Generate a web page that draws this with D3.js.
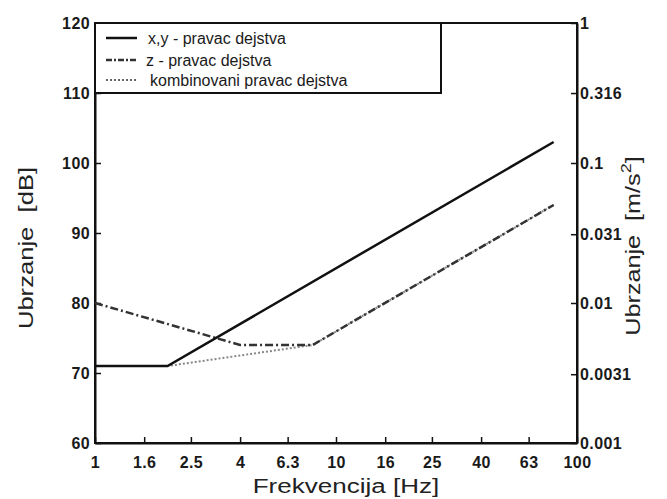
<!DOCTYPE html>
<html>
<head>
<meta charset="utf-8">
<script src="https://cdn.jsdelivr.net/npm/d3@7"></script>
<style>
  body { margin: 0; background: #fff; }
  svg { font-family: "Liberation Sans", Arial, sans-serif; }
</style>
</head>
<body>
<div id="chart"></div>
<script>
// frequency ticks (Hz) and levels (dB)
const freqTicks = [1, 1.6, 2.5, 4, 6.3, 10, 16, 25, 40, 63, 100];
const dbTicks = [60, 70, 80, 90, 100, 110, 120];
const accTicks = [0.001, 0.0031, 0.01, 0.031, 0.1, 0.316, 1];

// x,y direction
const xyFreq = [1, 2, 80];
const xyDb = [71, 71, 103];
// z direction
const zFreq = [1, 4, 8, 80];
const zDb = [80, 74, 74, 94];
// combined direction
const combFreq = [1, 2, 8, 80];
const combDb = [71, 71, 74, 94];

const legendLabels = ['x,y - pravac dejstva', 'z - pravac dejstva', 'kombinovani pravac dejstva'];

const W = 667, H = 499;
const margin = {top: 23, right: 90, bottom: 56, left: 95};

const svg = d3.select('#chart').append('svg')
    .attr('width', W)
    .attr('height', H);

const x = d3.scaleLog().domain([1, 100]).range([margin.left, W - margin.right]);
const y = d3.scaleLinear().domain([60, 120]).range([H - margin.bottom, margin.top]);
const yR = d3.scaleLog().domain([0.001, 1]).range([H - margin.bottom, margin.top]);

// frame
svg.append('rect')
    .attr('x', margin.left)
    .attr('y', margin.top)
    .attr('width', x(100) - x(1))
    .attr('height', y(60) - y(120))
    .attr('fill', 'none')
    .attr('stroke', '#111')
    .attr('stroke-width', 2);

// axes, ticks pointing inward
const xAxis = d3.axisBottom(x).tickValues(freqTicks).tickFormat(d => String(d)).tickSizeInner(-6).tickSizeOuter(0).tickPadding(14);
const yAxis = d3.axisLeft(y).tickValues(dbTicks).tickSizeInner(-6).tickSizeOuter(0).tickPadding(5);
const yAxisR = d3.axisRight(yR).tickValues(accTicks).tickFormat(d => String(d)).tickSizeInner(-6).tickSizeOuter(0).tickPadding(3);

function styleAxis(g) {
    g.select('.domain').attr('stroke', '#111').attr('stroke-width', 2);
    g.selectAll('.tick line').attr('stroke', '#111').attr('stroke-width', 1.5);
    g.selectAll('.tick text')
        .attr('font-family', '"Liberation Sans", Arial, sans-serif')
        .attr('font-size', 16)
        .attr('font-weight', 'bold')
        .attr('letter-spacing', 0.4)
        .attr('fill', '#1a1a1a');
}

svg.append('g')
    .attr('transform', 'translate(0,' + (H - margin.bottom) + ')')
    .call(xAxis).call(styleAxis);
svg.append('g')
    .attr('transform', 'translate(' + margin.left + ',0)')
    .call(yAxis).call(styleAxis);
svg.append('g')
    .attr('transform', 'translate(' + (W - margin.right) + ',0)')
    .call(yAxisR).call(styleAxis);

// axis titles (the source font is wide, so stretch horizontally)
svg.append('text')
    .attr('transform', 'translate(' + ((x(1) + x(100)) / 2 + 10) + ',493) scale(1.24,1)')
    .attr('text-anchor', 'middle')
    .attr('font-size', 21)
    .attr('fill', '#222')
    .text('Frekvencija [Hz]');

svg.append('text')
    .attr('transform', 'translate(33,' + (y(90) + 15) + ') rotate(-90) scale(1.22,1)')
    .attr('text-anchor', 'middle')
    .attr('font-size', 21)
    .attr('fill', '#222')
    .attr('xml:space', 'preserve')
    .text('Ubrzanje  [dB]');

const rt = svg.append('text')
    .attr('transform', 'translate(640,' + (y(90) + 13) + ') rotate(-90) scale(1.2,1)')
    .attr('text-anchor', 'middle')
    .attr('font-size', 21)
    .attr('fill', '#222')
    .attr('xml:space', 'preserve');
rt.append('tspan').text('Ubrzanje  [m/s');
rt.append('tspan').attr('dy', -9).attr('font-size', 15).text('2');
rt.append('tspan').attr('dy', 9).text(']');

// lines
const line = d3.line()
    .x(d => x(d[0]))
    .y(d => y(d[1]));

svg.append('path')
    .datum(d3.zip(combFreq, combDb))
    .attr('d', line)
    .attr('fill', 'none')
    .attr('stroke', '#888')
    .attr('stroke-width', 2)
    .attr('stroke-dasharray', '2,2');

svg.append('path')
    .datum(d3.zip(zFreq, zDb))
    .attr('d', line)
    .attr('fill', 'none')
    .attr('stroke', '#333')
    .attr('stroke-width', 2.5)
    .attr('stroke-dasharray', '8,3,2,3');

svg.append('path')
    .datum(d3.zip(xyFreq, xyDb))
    .attr('d', line)
    .attr('fill', 'none')
    .attr('stroke', '#111')
    .attr('stroke-width', 2.5);

// legend
const legend = svg.append('g');
legend.append('rect')
    .attr('x', margin.left)
    .attr('y', margin.top)
    .attr('width', 346)
    .attr('height', 70)
    .attr('fill', '#fff')
    .attr('stroke', '#111')
    .attr('stroke-width', 2);

const legendStyles = [
    {stroke: '#111', width: 2.5, dash: null, tx: 148},
    {stroke: '#333', width: 2.5, dash: '6,2,2,2', tx: 146},
    {stroke: '#666', width: 2, dash: '2,2', tx: 150}
];
const legendY = [38, 60, 80];

legendLabels.forEach((lab, i) => {
    const s = legendStyles[i];
    legend.append('line')
        .attr('x1', 106).attr('x2', 137)
        .attr('y1', legendY[i]).attr('y2', legendY[i])
        .attr('stroke', s.stroke)
        .attr('stroke-width', s.width)
        .attr('stroke-dasharray', s.dash);
    legend.append('text')
        .attr('x', s.tx)
        .attr('y', legendY[i])
        .attr('dy', '0.35em')
        .attr('font-size', 16)
        .attr('fill', '#1a1a1a')
        .text(lab);
});
</script>
</body>
</html>
